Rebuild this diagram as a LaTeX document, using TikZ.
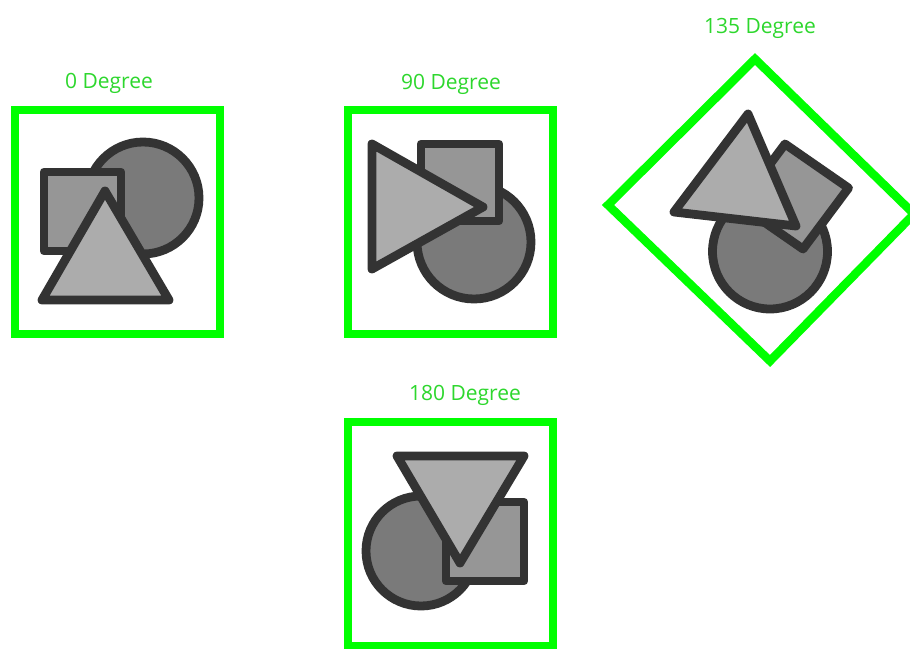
\documentclass[tikz,border=0pt]{standalone}
\usepackage{fontspec}
\setmainfont{Open Sans}
\definecolor{boxgreen}{RGB}{0,255,0}
\definecolor{lblgreen}{RGB}{45,215,45}
\definecolor{shapeline}{RGB}{51,51,51}
\definecolor{circfill}{RGB}{122,122,122}
\definecolor{sqfill}{RGB}{150,150,150}
\definecolor{trifill}{RGB}{172,172,172}
\begin{document}
\begin{tikzpicture}[x=1pt,y=-1pt,
  frame/.style={draw=boxgreen,line width=8.5pt,line join=miter},
  shp/.style={draw=shapeline,line width=8.8pt,line join=round},
  circ/.style={shp,fill=circfill},
  sq/.style={shp,fill=sqfill},
  tri/.style={shp,fill=trifill},
  lbl/.style={text=lblgreen,font=\fontsize{21}{25}\selectfont,inner sep=0pt,anchor=base}]
\useasboundingbox (0,0) rectangle (910,648);
\clip (0,0) rectangle (910,648);
\fill[white] (0,0) rectangle (910,648);

% ---- 0 Degree ----
\node[lbl] (l0) at (109,88) {0 Degree};
\draw[frame] (15,110) rectangle (220,334);
\draw[circ] (143,198) circle[radius=56];
\draw[sq] (44,172) rectangle (121,251);
\draw[tri] (105,191) -- (169,300) -- (42,300) -- cycle;

% ---- 90 Degree ----
\node[lbl] (l90) at (451,89) {90 Degree};
\draw[frame] (348,110) rectangle (553,334);
\draw[circ] (474,242) circle[radius=57];
\draw[sq] (421,144) rectangle (499,221);
\draw[tri] (372,144) -- (483,207) -- (372,269) -- cycle;

% ---- 135 Degree ----
\node[lbl] (l135) at (760,33) {135 Degree};
\draw[frame] (755,59) -- (914,214) -- (770,361) -- (608,205) -- cycle;
\draw[circ] (770,251.5) circle[radius=57.5];
\draw[sq] (785,144) -- (848.5,188) -- (803,249) -- (739.5,205) -- cycle;
\draw[tri] (748,114) -- (796,226) -- (674,212) -- cycle;

% ---- 180 Degree ----
\node[lbl] (l180) at (465,400) {180 Degree};
\draw[frame] (348,422) rectangle (553,646);
\draw[circ] (421,551) circle[radius=55];
\draw[sq] (446,502) rectangle (524,581);
\draw[tri] (397,456) -- (524,456) -- (460,563) -- cycle;
\end{tikzpicture}
\end{document}
